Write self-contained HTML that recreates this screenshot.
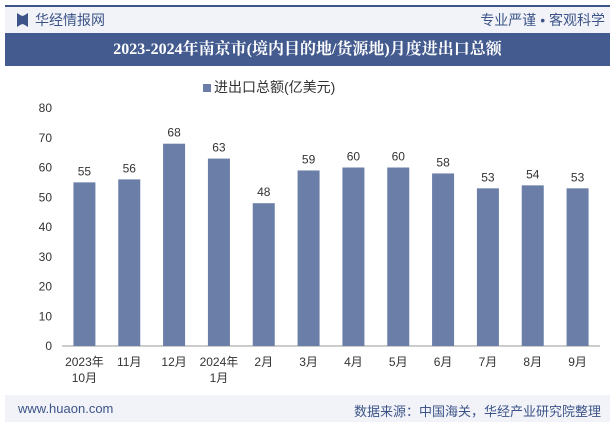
<!DOCTYPE html>
<html><head><meta charset="utf-8"><style>
body{margin:0;width:615px;height:427px;background:#fff;font-family:"Liberation Sans","Noto Sans CJK SC",sans-serif;position:relative;overflow:hidden}
.abs{position:absolute}
</style></head><body>
<div class="abs" style="left:5px;top:5px;width:605px;height:2px;background:#3d5488"></div>
<div class="abs" style="left:5px;top:7px;width:605px;height:26px;background:#f1f3f8"></div>
<div class="abs" style="left:17px;top:13px;width:11px;height:14px;background:#3d5488;clip-path:polygon(0 0,40% 20%,60% 20%,100% 0,100% 100%,60% 80%,40% 80%,0 100%)"></div>
<div class="abs" style="left:35px;top:10px;font-size:14px;color:#3d5488">华经情报网</div>
<div class="abs" style="right:10px;top:10px;font-size:14px;color:#3d5488">专业严谨 • 客观科学</div>
<div class="abs" style="left:5px;top:33px;width:605px;height:33px;background:#445b8f;color:#fff;font-family:'Liberation Serif','Noto Serif CJK SC',serif;font-weight:bold;font-size:16px;line-height:33px;text-align:center">2023-2024年南京市(境内目的地/货源地)月度进出口总额</div>
<div class="abs" style="left:203px;top:77px;font-size:14px;color:#333"><span style="display:inline-block;width:8px;height:8px;background:#6a7ea8;margin-right:3px"></span>进出口总额(亿美元)</div>
<svg class="abs" style="left:0;top:0" width="615" height="427" id="chart"></svg>
<div class="abs" style="left:5px;top:395px;width:605px;height:27px;background:#f1f3f8"></div>
<div class="abs" style="left:18px;top:401px;font-size:13px;color:#3d5488">www.huaon.com</div>
<div class="abs" style="right:14px;top:401px;font-size:13px;color:#3d5488">数据来源：中国海关，华经产业研究院整理</div>
<script>
const categories=["2023年|10月","11月","12月","2024年|1月","2月","3月","4月","5月","6月","7月","8月","9月"];
const values=[55,56,68,63,48,59,60,60,58,53,54,53];
const yTicks=[0,10,20,30,40,50,60,70,80];
const svg=document.getElementById('chart');const NS='http://www.w3.org/2000/svg';
const x0=62,x1=600,yb=346,yt=108,ymax=80;
const y=v=>yb-(v/ymax)*(yb-yt);
const step=(x1-x0)/categories.length;
const xc=i=>x0+step*(i+0.5);
function mk(t,a,txt){const e=document.createElementNS(NS,t);for(const k in a)e.setAttribute(k,a[k]);if(txt!=null)e.textContent=txt;svg.appendChild(e);return e;}
yTicks.forEach(t=>{const e=mk('text',{x:52,y:y(t)+4,'text-anchor':'end','font-size':12,fill:'#333'},t);

});
const ax=mk('line',{x1:x0,x2:x1,y1:yb,y2:yb,stroke:'#999','stroke-width':1});


values.forEach((v,i)=>{
const r=mk('rect',{x:xc(i)-11,y:y(v),width:22,height:yb-y(v),fill:'#6a7ea8'});


const l=mk('text',{x:xc(i),y:y(v)-7,'text-anchor':'middle','font-size':12,fill:'#333'},v);


categories[i].split('|').forEach((s,j)=>{const c=mk('text',{x:xc(i),y:366+j*16,'text-anchor':'middle','font-size':12,fill:'#333'},s);

});
});
</script>
</body></html>
